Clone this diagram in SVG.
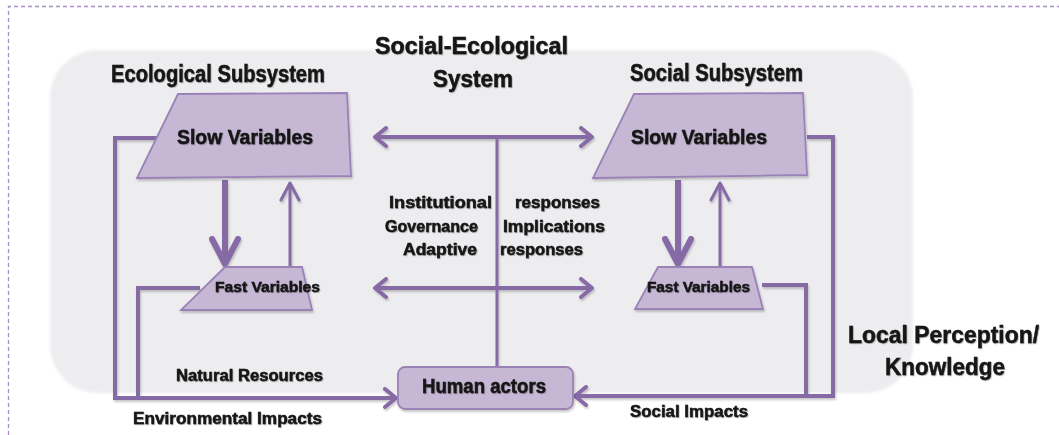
<svg xmlns="http://www.w3.org/2000/svg" width="1059" height="435" viewBox="0 0 1059 435">
<style>
.t{font-family:"Liberation Sans","Arial",sans-serif;font-weight:bold;fill:#141414;stroke:#141414;stroke-width:0.5;}
.big{font-size:23.5px;}
.mid{font-size:20px;}
.sm{font-size:16px;}
.xs{font-size:15px;}
.ln{fill:none;stroke:#866aa5;stroke-width:4;stroke-linejoin:miter;}
.trap{fill:#c6b8d4;stroke:#9a82b7;stroke-width:1.8;}
</style>
<defs>
<filter id="sh" x="-10%" y="-10%" width="130%" height="130%">
<feDropShadow dx="1" dy="2" stdDeviation="1.3" flood-color="#000" flood-opacity="0.22"/>
</filter>
<filter id="tsh" x="-5%" y="-20%" width="110%" height="150%">
<feDropShadow dx="0.8" dy="1" stdDeviation="0.6" flood-color="#000" flood-opacity="0.25"/>
</filter>
<filter id="bgblur" x="-5%" y="-5%" width="110%" height="110%">
<feGaussianBlur stdDeviation="1.5"/>
</filter>
<marker id="arr" markerUnits="userSpaceOnUse" viewBox="0 0 16 22" refX="13" refY="11" markerWidth="16" markerHeight="22" orient="auto-start-reverse">
<path d="M2,2 L13,11 L2,20" fill="none" stroke="#866aa5" stroke-width="4" stroke-linecap="round" stroke-linejoin="round"/>
</marker>
<marker id="arrBig" markerUnits="userSpaceOnUse" viewBox="0 0 32 32" refX="28" refY="16" markerWidth="32" markerHeight="32" orient="auto">
<path d="M3,3 L28,16 L3,29" fill="none" stroke="#866aa5" stroke-width="6" stroke-linecap="round" stroke-linejoin="round"/>
</marker>
<marker id="arrThin" markerUnits="userSpaceOnUse" viewBox="0 0 22 22" refX="19" refY="11" markerWidth="22" markerHeight="22" orient="auto">
<path d="M2,2 L19,11 L2,20" fill="none" stroke="#866aa5" stroke-width="3" stroke-linecap="round" stroke-linejoin="round"/>
</marker>
</defs>

<g id="frame">
<path d="M8.5,435 V6.5 H1059" fill="none" stroke="#a98fc8" stroke-width="1.3" stroke-dasharray="4,3"/>
</g>

<g id="background">
<rect x="50" y="50" width="863" height="343" rx="48" fill="#ededf0" filter="url(#bgblur)"/>
</g>

<g id="title" class="t big" filter="url(#tsh)">
<text x="375" y="54" textLength="193" lengthAdjust="spacingAndGlyphs">Social-Ecological</text>
<text x="433" y="87" textLength="80" lengthAdjust="spacingAndGlyphs">System</text>
</g>

<g id="connectors" filter="url(#sh)">
<path class="ln" d="M157,138 H115 V398 H396" marker-end="url(#arr)"/>
<path class="ln" d="M200,288 H138 V398"/>
<path class="ln" d="M807,137 H833 V396 H575" marker-end="url(#arr)"/>
<path class="ln" d="M762,285 H806 V396"/>
<path class="ln" d="M375,137 H592" marker-start="url(#arr)" marker-end="url(#arr)"/>
<path class="ln" d="M375,288 H592" marker-start="url(#arr)" marker-end="url(#arr)"/>
<path class="ln" d="M497,367 V137" style="stroke-width:3"/>
<path class="ln" d="M225,180 V264" style="stroke-width:6" marker-end="url(#arrBig)"/>
<path class="ln" d="M290,267 V183" style="stroke-width:3" marker-end="url(#arrThin)"/>
<path class="ln" d="M678,180 V264" style="stroke-width:6" marker-end="url(#arrBig)"/>
<path class="ln" d="M720,267 V183" style="stroke-width:3" marker-end="url(#arrThin)"/>
</g>

<g id="ecological-subsystem">
<text class="t big" x="111" y="82" textLength="214" lengthAdjust="spacingAndGlyphs" filter="url(#tsh)">Ecological Subsystem</text>
</g>

<g id="social-subsystem">
<text class="t big" x="630" y="81" textLength="173" lengthAdjust="spacingAndGlyphs" filter="url(#tsh)">Social Subsystem</text>
</g>

<g id="eco-slow">
<polygon class="trap" points="178,94 347,93 351,176 137,178" filter="url(#sh)"/>
<text class="t mid" x="177" y="144" textLength="136" lengthAdjust="spacingAndGlyphs" filter="url(#tsh)">Slow Variables</text>
</g>

<g id="soc-slow">
<polygon class="trap" points="634,94 803,93 807,175 593,178" filter="url(#sh)"/>
<text class="t mid" x="631" y="144" textLength="136" lengthAdjust="spacingAndGlyphs" filter="url(#tsh)">Slow Variables</text>
</g>

<g id="eco-fast">
<polygon class="trap" points="225,267 302,267 312,310 181,310" filter="url(#sh)"/>
<text class="t xs" x="215" y="292" textLength="105" lengthAdjust="spacingAndGlyphs" filter="url(#tsh)">Fast Variables</text>
</g>

<g id="soc-fast">
<polygon class="trap" points="658,267 752,267 763,309 635,309" filter="url(#sh)"/>
<text class="t xs" x="647" y="292" textLength="103" lengthAdjust="spacingAndGlyphs" filter="url(#tsh)">Fast Variables</text>
</g>

<g id="human-actors">
<rect x="398" y="367" width="175" height="42" rx="7" class="trap" filter="url(#sh)"/>
<text class="t mid" x="422" y="393" textLength="124" lengthAdjust="spacingAndGlyphs" filter="url(#tsh)">Human actors</text>
</g>

<g id="labels" class="t sm" filter="url(#tsh)">
<text x="389" y="208" textLength="103" lengthAdjust="spacingAndGlyphs">Institutional</text>
<text x="515" y="208" textLength="85" lengthAdjust="spacingAndGlyphs">responses</text>
<text x="385" y="232" textLength="93" lengthAdjust="spacingAndGlyphs">Governance</text>
<text x="503" y="232" textLength="102" lengthAdjust="spacingAndGlyphs">Implications</text>
<text x="403" y="255" textLength="74" lengthAdjust="spacingAndGlyphs">Adaptive</text>
<text x="500" y="255" textLength="83" lengthAdjust="spacingAndGlyphs">responses</text>
<text x="176" y="381" textLength="147" lengthAdjust="spacingAndGlyphs">Natural Resources</text>
<text x="133" y="424" textLength="189" lengthAdjust="spacingAndGlyphs">Environmental Impacts</text>
<text x="630" y="417" textLength="118" lengthAdjust="spacingAndGlyphs">Social Impacts</text>
</g>

<g id="local-perception" class="t big" filter="url(#tsh)">
<text x="848" y="343" textLength="191" lengthAdjust="spacingAndGlyphs">Local Perception/</text>
<text x="885" y="375" textLength="120" lengthAdjust="spacingAndGlyphs">Knowledge</text>
</g>
</svg>
